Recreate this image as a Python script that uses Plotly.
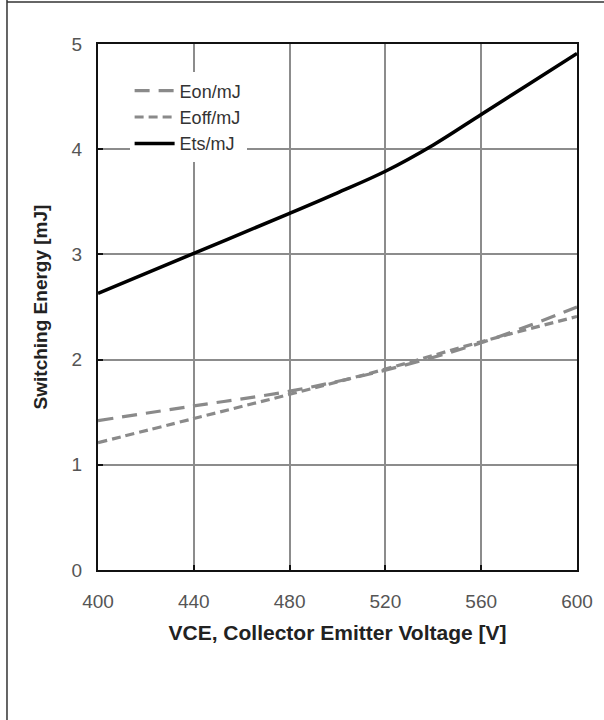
import plotly.graph_objects as go

# Switching energy versus collector-emitter voltage
vce = [400, 440, 480, 520, 560, 600]
eon = [1.42, 1.56, 1.70, 1.90, 2.16, 2.50]
eoff = [1.21, 1.44, 1.67, 1.91, 2.17, 2.41]

vce_ts = [400, 440, 480, 500, 520, 540, 560, 580, 600]
ets = [2.63, 3.01, 3.39, 3.585, 3.79, 4.04, 4.33, 4.62, 4.91]

x_ticks = [400, 440, 480, 520, 560, 600]
y_ticks = [0, 1, 2, 3, 4, 5]

series_gray = "#8a8a8a"
font_family = "Liberation Sans, Arial, sans-serif"

fig = go.Figure()
fig.add_trace(go.Scatter(
    x=vce, y=eon, name="Eon/mJ", mode="lines", legendgroup="a",
    line=dict(color=series_gray, width=3.2, dash="15px,9px", shape="spline"),
))
fig.add_trace(go.Scatter(
    x=vce, y=eoff, name="Eoff/mJ", mode="lines", legendgroup="b",
    line=dict(color=series_gray, width=3.2, dash="9px,5px", shape="spline"),
))
fig.add_trace(go.Scatter(
    x=vce_ts, y=ets, name="Ets/mJ", mode="lines", legendgroup="c",
    line=dict(color="#000000", width=3.5, shape="spline", smoothing=1.0),
))

axis_common = dict(
    showline=True, linecolor="#111111", linewidth=2, mirror=True,
    showgrid=True, gridcolor="#8c8c8c", gridwidth=2,
    ticks="inside", ticklen=5, tickwidth=2, tickcolor="#111111",
    zeroline=False,
    tickfont=dict(family=font_family, size=19, color="#555555"),
)

fig.update_xaxes(
    range=[400, 600], tickvals=x_ticks, ticktext=[str(v) for v in x_ticks],
    ticklabelstandoff=13,
    title=dict(text="<b>VCE, Collector Emitter Voltage [V]</b>", standoff=15,
               font=dict(family=font_family, size=21, color="#222222")),
    **axis_common,
)
fig.update_yaxes(
    range=[0, 5], tickvals=y_ticks, ticktext=[str(v) for v in y_ticks],
    ticklabelstandoff=10,
    title=dict(text="<b>Switching Energy [mJ]</b>", standoff=19,
               font=dict(family=font_family, size=19, color="#222222")),
    **axis_common,
)

# Page frame lines along the top and left edges
fig.add_shape(type="line", xref="paper", yref="paper",
              x0=-0.19, x1=1.1, y0=1.08, y1=1.08,
              line=dict(color="#333333", width=1.5))
fig.add_shape(type="line", xref="paper", yref="paper",
              x0=-0.19, x1=-0.19, y0=-0.3, y1=1.09,
              line=dict(color="#333333", width=1.5))

fig.update_layout(
    width=604, height=720,
    margin=dict(l=98, r=27, t=44, b=150),
    paper_bgcolor="white", plot_bgcolor="white",
    showlegend=True,
    legend=dict(
        x=0.066, y=0.946, xanchor="left", yanchor="top",
        bgcolor="white", borderwidth=0,
        font=dict(family=font_family, size=18, color="#333333"),
        itemwidth=40, tracegroupgap=8, traceorder="normal",
    ),
)

fig.write_html("out.html")
